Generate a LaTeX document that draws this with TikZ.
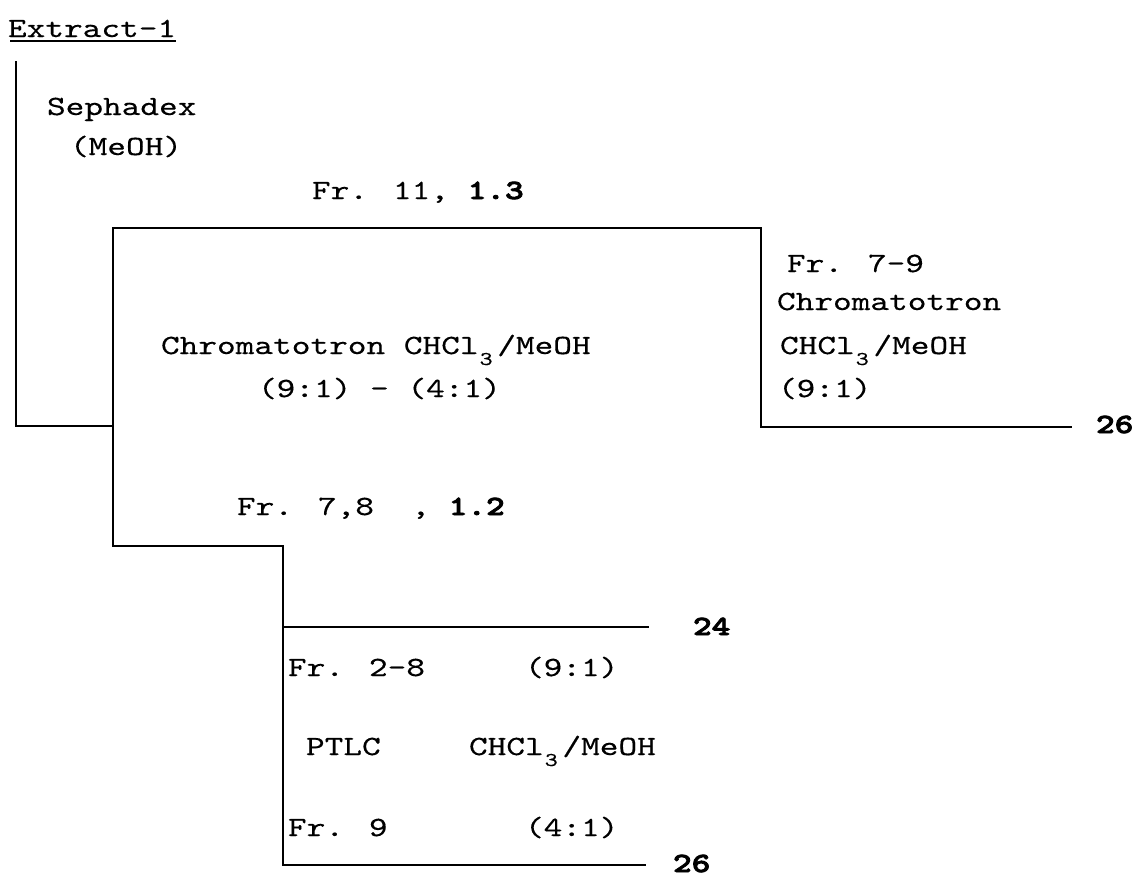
\documentclass[tikz,border=0pt]{standalone}
\usepackage{fontspec}
\usetikzlibrary{calc}
\newfontfamily\fwfam{lmmono10-regular.otf}[FakeStretch=1.28,FakeBold=0.35]
\newfontfamily\fwbfam{lmmonolt10-bold.otf}[FakeStretch=1.28,FakeBold=3]
\newcommand\fwr{\fwfam\fontsize{27.8}{32}\selectfont}
\newcommand\fwb{\fwbfam\fontsize{27.8}{32}\selectfont}
\newcommand\subthree{\makebox[18.7pt][l]{\hspace{1pt}\raisebox{-11pt}{\fwfam\fontsize{19.5}{19.5}\selectfont 3}}}
\tikzset{
  txt/.style={anchor=base west, inner sep=0pt, outer sep=0pt, font=\fwr},
  num/.style={anchor=base west, inner sep=0pt, outer sep=0pt, font=\fwb},
  ln/.style={line width=1.7pt, line cap=rect},
  uline/.style={line width=1.5pt}
}
\begin{document}
\begin{tikzpicture}[x=1pt,y=-1pt]
\useasboundingbox (0,0) rectangle (1134,876);
% texts
\node[txt] (ext) at (8,37) {Extract-1};
\draw[uline] ($(ext.base west)+(2,4)$) -- ($(ext.base east)+(0,4)$);
\node[txt] (seph) at (47,115) {Sephadex};
\node[txt] (meoh) at (70,155) {(MeOH)};
\node[txt] (fr11) at (312,199) {Fr. 11, {\fwb 1.3}};
\node[txt] (chrom) at (161,354) {Chromatotron CHCl\subthree/MeOH};
\node[txt] (ratio) at (258,397) {(9:1) - (4:1)};
\node[txt] (fr79) at (787,272) {Fr. 7-9};
\node[txt] (chrom2) at (777,310) {Chromatotron};
\node[txt] (solv2) at (780,354) {CHCl\subthree/MeOH};
\node[txt] (r2) at (778,397) {(9:1)};
\node[num] (n26a) at (1096,433) {26};
\node[txt] (fr78) at (237,515) {Fr. 7,8\ \ , {\fwb 1.2}};
\node[num] (n24) at (693,635) {24};
\node[txt] (fr28) at (288,676) {Fr. 2-8};
\node[txt] (r91) at (525,676) {(9:1)};
\node[txt] (ptlc) at (306,755) {PTLC};
\node[txt] (solv3) at (469,755) {CHCl\subthree/MeOH};
\node[txt] (fr9) at (288,836) {Fr. 9};
\node[txt] (r41) at (525,836) {(4:1)};
\node[num] (n26b) at (673,872) {26};
% junction coordinates
\coordinate (top) at (16,62);
\coordinate (c1) at (16,426);
\coordinate (j1) at (113,426);
\coordinate (bt) at (113,228);
\coordinate (bs) at (113,546);
\coordinate (tr) at (761,228);
\coordinate (rc) at (761,427);
\coordinate (re) at (1071,427);
\coordinate (p1) at (283,546);
\coordinate (p2) at (283,627);
\coordinate (p2e) at (648,627);
\coordinate (p3) at (283,865);
\coordinate (p3e) at (645,865);
% connectors
\draw[ln] (top) -- (c1) -- (j1);
\draw[ln] (bt) -- (bs);
\draw[ln] (bt) -- (tr) -- (rc) -- (re);
\draw[ln] (bs) -- (p1) -- (p3) -- (p3e);
\draw[ln] (p2) -- (p2e);
\end{tikzpicture}
\end{document}
